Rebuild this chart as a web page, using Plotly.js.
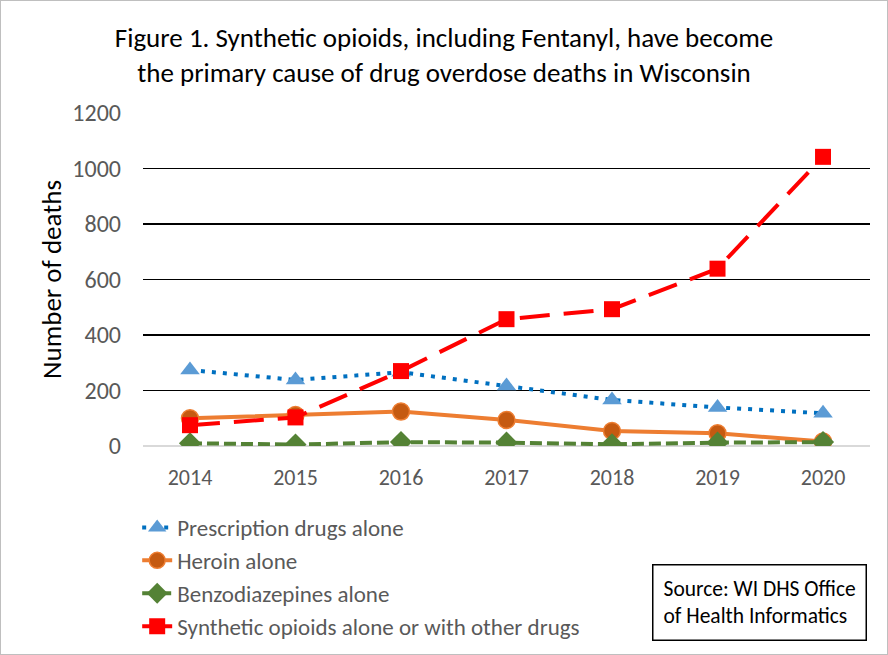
<!DOCTYPE html>
<html><head><meta charset="utf-8">
<script src="https://cdn.plot.ly/plotly-3.0.1.min.js"></script>
<style>html,body{margin:0;padding:0;background:#fff}#c{width:886px;height:653px;border:1px solid #bfbfbf}</style>
</head><body><div id="c"></div>
<script>
const years = ['2014','2015','2016','2017','2018','2019','2020'];
const prescription = [274, 238, 266, 216, 166, 139, 118];
const heroin = [100, 112, 124, 94, 54, 46, 16];
const benzo = [10, 5, 14, 12, 6, 12, 14];
const synthetic = [75, 103, 270, 457, 493, 639, 1042];
const names = ['Prescription drugs alone','Heroin alone','Benzodiazepines alone','Synthetic opioids alone or with other drugs'];
const yTicks = [0,200,400,600,800,1000,1200];

const font = 'Calibri, Carlito, Lato, "Open Sans", sans-serif';
const traces = [
 {x:years,y:prescription,name:names[0],mode:'lines+markers',legendgroup:'a',
  line:{color:'#0070C0',width:4,dash:'4px,7px'},marker:{symbol:'triangle-up',size:17,color:'#5B9BD5'}},
 {x:years,y:heroin,name:names[1],mode:'lines+markers',legendgroup:'b',
  line:{color:'#ED7D31',width:4},marker:{symbol:'circle',size:17,color:'#C55A11',line:{color:'#ED7D31',width:1.5}}},
 {x:years,y:benzo,name:names[2],mode:'lines+markers',legendgroup:'c',
  line:{color:'#548235',width:4,dash:'12px,5px'},marker:{symbol:'diamond',size:17,color:'#548235'}},
 {x:years,y:synthetic,name:names[3],mode:'lines+markers',legendgroup:'d',
  line:{color:'#FF0000',width:4,dash:'30px,14px'},marker:{symbol:'square',size:16,color:'#FF0000'}}
];
const layout = {
 width:886,height:653,
 margin:{l:142,r:17,t:112,b:208},
 paper_bgcolor:'#fff',plot_bgcolor:'#fff',
 font:{family:font,color:'#595959',size:22},
 title:{text:'Figure 1. Synthetic opioids, including Fentanyl, have become<br>the primary cause of drug overdose deaths in Wisconsin',
  font:{family:font,size:27,color:'#000'},x:0.5,xanchor:'center',y:1-46/653,yref:'container',yanchor:'middle'},
 xaxis:{type:'category',showgrid:false,zeroline:false,showline:false,ticks:'',automargin:false,
  tickfont:{size:22,color:'#595959'},ticklabelstandoff:16,fixedrange:true},
 yaxis:{range:[0,1200],tickvals:yTicks,ticktext:yTicks.map(String),gridcolor:'#000',gridwidth:1.5,automargin:false,
  zeroline:true,zerolinecolor:'#d9d9d9',zerolinewidth:1.5,showline:false,ticks:'',
  tickfont:{size:24,color:'#595959'},ticklabelstandoff:21,
  title:{text:'Number of deaths',font:{size:27,color:'#000'},standoff:2}},
 showlegend:true,
 legend:{orientation:'v',x:-0.008,xanchor:'left',xref:'paper',y:1-505/653,yref:'container',yanchor:'top',
  traceorder:'grouped',tracegroupgap:0,font:{size:23,color:'#595959'},bgcolor:'rgba(0,0,0,0)'},
 annotations:[{xref:'paper',yref:'paper',x:0.996,xanchor:'right',y:-0.354,yanchor:'top',
  text:'Source: WI DHS Office<br>of Health Informatics',align:'left',showarrow:false,
  font:{size:21.5,color:'#000'},bordercolor:'#000',borderwidth:1.5,borderpad:10,bgcolor:'#fff'}]
};
Plotly.newPlot('c',traces,layout,{displayModeBar:false,staticPlot:true});
</script></body></html>
